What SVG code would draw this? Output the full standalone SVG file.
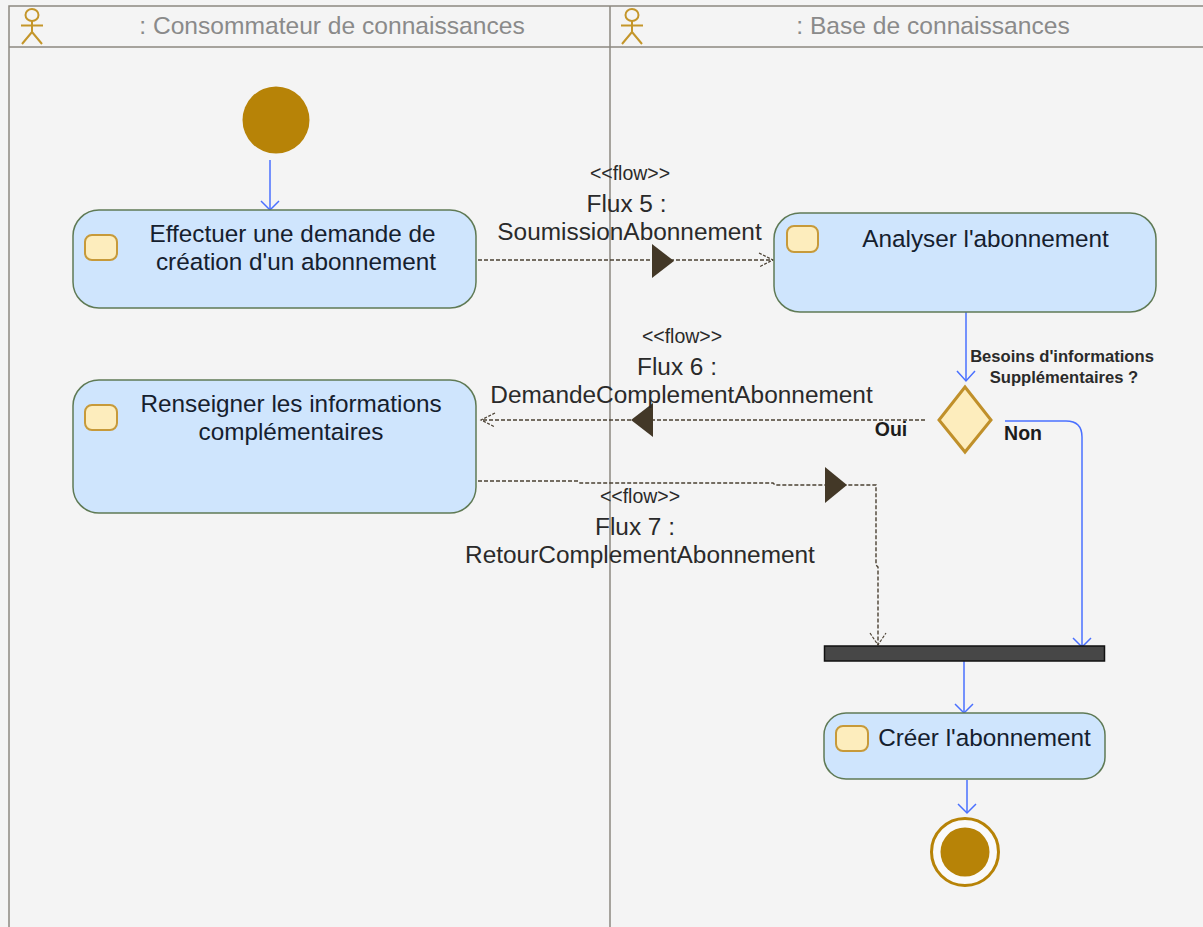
<svg xmlns="http://www.w3.org/2000/svg" width="1203" height="927" viewBox="0 0 1203 927">
<style>
text{font-family:"Liberation Sans",Arial,sans-serif;text-anchor:middle;fill:#1c1c1c}
.h{font-size:24.6px;fill:#8a8a8a}
.n{font-size:24.3px;fill:#15202e}
.l{font-size:24.4px;fill:#2a2a2a}
.s{font-size:19.5px;fill:#2a2a2a}
.b{font-size:16.6px;font-weight:bold;fill:#2a2a2a}
.g{font-size:19.5px;font-weight:bold}
.act{fill:#cfe5fd;stroke:#5f7a55;stroke-width:1.5}
.ic{fill:#fdedbd;stroke:#c79a3a;stroke-width:2}
.lane{fill:none;stroke:#8c8880;stroke-width:1.5}
.actor{fill:none;stroke:#c4962a;stroke-width:2}
.ctl{fill:none;stroke:#4a70ff;stroke-width:1.5}
.flw{fill:none;stroke:#4a4032;stroke-width:1.4;stroke-dasharray:4 2}
.ah{fill:none;stroke:#4a70ff;stroke-width:1.5}
.fh{fill:none;stroke:#4a4032;stroke-width:1.2;stroke-dasharray:3 1.5}
.tri{fill:#433827}
</style>
<rect width="1203" height="927" fill="#f4f4f4"/>
<g id="lanes">
<path class="lane" d="M9 927V6H1203M9 47H1203M610 6V927"/>
</g>
<g id="actor1">
<g class="actor"><ellipse cx="32" cy="15" rx="6.500" ry="6"/><path d="M32 21V32M21 25.500H43M32 32L22 44M32 32L42 44"/></g>
<text class="h" x="332" y="34">: Consommateur de connaissances</text>
</g>
<g id="actor2">
<g class="actor"><ellipse cx="632" cy="15" rx="6.500" ry="6"/><path d="M632 21V32M621 25.500H643M632 32L622 44M632 32L642 44"/></g>
<text class="h" x="933" y="34">: Base de connaissances</text>
</g>
<g id="connectors">
<path class="ctl" d="M270 160V210"/><path class="ah" d="M261 201L270 210L279 201"/>
<path class="ctl" d="M966 312V381"/><path class="ah" d="M957 371L966 381L975 371"/>
<path class="ctl" d="M1005 421H1066Q1082 421 1082 437V647"/><path class="ah" d="M1073 638L1082 647L1091 638"/>
<path class="ctl" d="M964 661V713"/><path class="ah" d="M955 704L964 713L973 704"/>
<path class="ctl" d="M967 780V813"/><path class="ah" d="M958 804L967 813L976 804"/>
<path class="flw" d="M478 260H773"/><path class="fh" d="M759 253L773 260L759 267"/>
<path class="tri" d="M652 244L674 261L652 278Z"/>
<path class="flw" d="M925 420H481"/><path class="fh" d="M495 413L481 420L495 427"/>
<path class="tri" d="M653 403L631 420L653 437Z"/>
<path class="flw" d="M478 481H578L580 483H773L775 485H876V565L878 567V645"/><path class="fh" d="M870 633L878 645L886 633"/>
<path class="tri" d="M825 467L847 485L825 503Z"/>
</g>
<g id="start"><circle cx="276" cy="120" r="33.500" fill="#b78307"/></g>
<g id="a1">
<rect class="act" x="73" y="210" width="403" height="98" rx="26"/>
<rect class="ic" x="85" y="235" width="32" height="25" rx="7"/>
<text class="n"><tspan x="292.500" y="242">Effectuer une demande de</tspan><tspan x="296" y="270">création d'un abonnement</tspan></text>
</g>
<g id="a2">
<rect class="act" x="774" y="213" width="382" height="99" rx="26"/>
<rect class="ic" x="787" y="226" width="31" height="26" rx="7"/>
<text class="n" x="985.500" y="247">Analyser l'abonnement</text>
</g>
<g id="a3">
<rect class="act" x="73" y="380" width="403" height="133" rx="26"/>
<rect class="ic" x="85" y="405" width="32" height="25" rx="7"/>
<text class="n"><tspan x="291" y="412">Renseigner les informations</tspan><tspan x="291" y="440">complémentaires</tspan></text>
</g>
<g id="decision">
<path d="M965 387L991 420L965 452L939 420Z" fill="#fdedbd" stroke="#c0902a" stroke-width="3"/>
<text class="b"><tspan x="1062" y="362">Besoins d'informations</tspan><tspan x="1064" y="383">Supplémentaires ?</tspan></text>
<text class="g" x="891" y="436">Oui</text>
<text class="g" x="1023" y="440">Non</text>
</g>
<g id="fork"><rect x="824.500" y="646" width="280" height="15" fill="#474747" stroke="#111" stroke-width="1.500"/></g>
<g id="a4">
<rect class="act" x="824" y="713" width="281" height="66" rx="22"/>
<rect class="ic" x="836" y="726" width="32" height="25" rx="7"/>
<text class="n" x="984.500" y="746">Créer l'abonnement</text>
</g>
<g id="end">
<circle cx="965" cy="852" r="33.500" fill="#fafafa" stroke="#b78307" stroke-width="3"/>
<circle cx="965" cy="852" r="24.500" fill="#b78307"/>
</g>
<g id="labels">
<text class="s" x="630" y="180">&lt;&lt;flow&gt;&gt;</text>
<text class="l"><tspan x="626.500" y="212">Flux 5 :</tspan><tspan x="629.500" y="240">SoumissionAbonnement</tspan></text>
<text class="s" x="682" y="343">&lt;&lt;flow&gt;&gt;</text>
<text class="l"><tspan x="677" y="375">Flux 6 :</tspan><tspan x="681.500" y="403">DemandeComplementAbonnement</tspan></text>
<text class="s" x="640" y="503">&lt;&lt;flow&gt;&gt;</text>
<text class="l"><tspan x="635" y="535">Flux 7 :</tspan><tspan x="640" y="563">RetourComplementAbonnement</tspan></text>
</g>
</svg>
